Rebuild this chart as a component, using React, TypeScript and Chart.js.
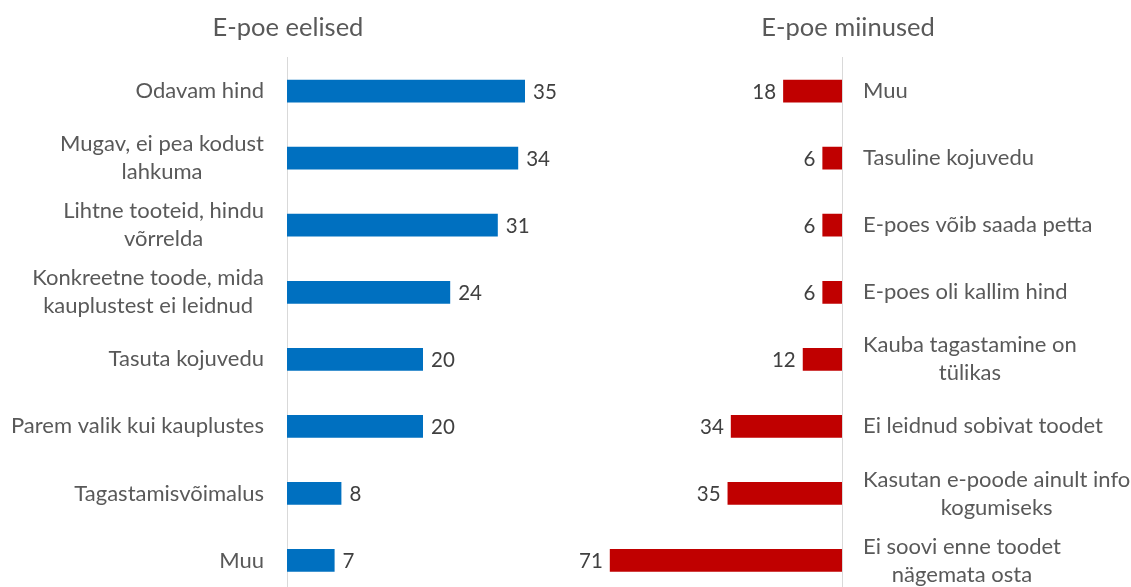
import React, { useEffect, useRef } from "react";
import { Chart, registerables } from "chart.js";

Chart.register(...registerables);

const leftTitle = "E-poe eelised";
const leftLabels: string[][] = [
  ["Odavam hind"],
  ["Mugav, ei pea kodust", "lahkuma"],
  ["Lihtne tooteid, hindu", "võrrelda"],
  ["Konkreetne toode, mida", "kauplustest ei leidnud"],
  ["Tasuta kojuvedu"],
  ["Parem valik kui kauplustes"],
  ["Tagastamisvõimalus"],
  ["Muu"],
];
const leftValues = [35, 34, 31, 24, 20, 20, 8, 7];

const rightTitle = "E-poe miinused";
const rightLabels: string[][] = [
  ["Muu"],
  ["Tasuline kojuvedu"],
  ["E-poes võib saada petta"],
  ["E-poes oli kallim hind"],
  ["Kauba tagastamine on", "tülikas"],
  ["Ei leidnud sobivat toodet"],
  ["Kasutan e-poode ainult info", "kogumiseks"],
  ["Ei soovi enne toodet", "nägemata osta"],
];
const rightValues = [18, 6, 6, 6, 12, 34, 35, 71];

const FONT = "Lato";
const LABEL_COLOR = "#595959";
const VALUE_COLOR = "#404040";

const labelPlugin = {
  id: "sideLabels",
  afterDatasetsDraw(chart: any, _args: any, opts: any) {
    const { ctx, chartArea } = chart;
    const yScale = chart.scales.y;
    const side = opts.side;
    const gap = opts.gap ?? 22;
    const lineH = opts.lineHeight ?? 28;
    ctx.save();
    ctx.font = `${opts.fontSize}px ${FONT}`;
    ctx.fillStyle = LABEL_COLOR;
    ctx.textBaseline = "middle";
    ctx.textAlign = "center";
    const labels = chart.data.labels as any[];
    labels.forEach((lab, i) => {
      const lines: string[] = Array.isArray(lab) ? lab : [String(lab)];
      const w = Math.max(...lines.map((l) => ctx.measureText(l).width));
      const y = yScale.getPixelForTick(i);
      const cx =
        side === "left" ? chartArea.left - gap - w / 2 : chartArea.right + gap + w / 2;
      lines.forEach((l, j) => {
        ctx.fillText(l, cx, y + (j - (lines.length - 1) / 2) * lineH);
      });
    });
    // values
    ctx.font = `${opts.valueSize}px ${FONT}`;
    ctx.fillStyle = VALUE_COLOR;
    const meta = chart.getDatasetMeta(0);
    const vals = chart.data.datasets[0].data as number[];
    meta.data.forEach((bar: any, i: number) => {
      if (side === "left") {
        ctx.textAlign = "left";
        ctx.fillText(String(vals[i]), bar.x + 8, bar.y + 1);
      } else {
        ctx.textAlign = "right";
        ctx.fillText(String(vals[i]), bar.x - 7, bar.y + 1);
      }
    });
    ctx.restore();
  },
};

function makeConfig(
  title: string,
  labels: string[][],
  values: number[],
  color: string,
  side: "left" | "right",
  xMax: number,
  axisWidth: number,
  gap: number
): any {
  return {
    type: "bar",
    data: {
      labels,
      datasets: [
        {
          data: values,
          backgroundColor: color,
          barPercentage: 0.34,
          categoryPercentage: 1,
        },
      ],
    },
    plugins: [labelPlugin],
    options: {
      indexAxis: "y",
      animation: false,
      responsive: true,
      maintainAspectRatio: false,
      layout: { padding: { left: 0, right: 0, top: 0, bottom: 2 } },
      plugins: {
        legend: { display: false },
        tooltip: { enabled: false },
        title: {
          display: true,
          text: title,
          color: LABEL_COLOR,
          font: { family: FONT, size: 25.5, weight: "normal" },
          padding: { top: 12, bottom: 15 },
        },
        sideLabels: { side, gap, lineHeight: 28, fontSize: 22, valueSize: 20.5 },
      },
      scales: {
        x: {
          display: false,
          min: 0,
          max: xMax,
          reverse: side === "right",
        },
        y: {
          position: side,
          ticks: { display: false },
          grid: { display: false, drawTicks: false },
          border: { display: true, color: "#d9d9d9", width: 1 },
          afterFit: (scale: any) => {
            scale.width = axisWidth;
          },
        },
      },
    },
  };
}

function BarChart(props: { config: any; style: React.CSSProperties }) {
  const ref = useRef<HTMLCanvasElement | null>(null);
  useEffect(() => {
    if (!ref.current) return;
    const chart = new Chart(ref.current, props.config);
    return () => chart.destroy();
  }, []);
  return (
    <div style={{ position: "absolute", ...props.style }}>
      <canvas ref={ref} />
    </div>
  );
}

export default function App() {
  const leftCfg = makeConfig(leftTitle, leftLabels, leftValues, "#0070C0", "left", 42.5, 287, 23);
  const rightCfg = makeConfig(rightTitle, rightLabels, rightValues, "#C00000", "right", 84.7, 289, 21);
  return (
    <div
      style={{
        position: "fixed",
        left: 0,
        top: 0,
        width: 1131,
        height: 587,
        overflow: "hidden",
        background: "#ffffff",
      }}
    >
      <BarChart config={leftCfg} style={{ left: 0, top: 0, width: 576, height: 596 }} />
      <BarChart config={rightCfg} style={{ left: 565, top: 0, width: 566, height: 596 }} />
    </div>
  );
}
